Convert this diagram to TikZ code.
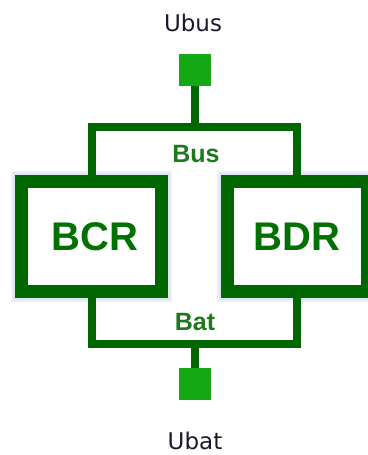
\documentclass[tikz,border=0pt]{standalone}
\usepackage{fontspec}
\setmainfont{Liberation Sans}
\newfontfamily\labelfont{DejaVu Sans}
\usepackage{tikz}
\usetikzlibrary{positioning, calc}
\usepackage{xcolor}
\definecolor{framegreen}{RGB}{0,102,0}
\definecolor{padgreen}{RGB}{20,168,20}
\definecolor{textgreen}{RGB}{30,120,30}
\definecolor{halo}{RGB}{222,228,240}
\definecolor{portink}{RGB}{25,25,45}

\begin{document}
\begin{tikzpicture}[
    x=1pt, y=-1pt,
    wire/.style={draw=framegreen, line width=8pt},
    unit/.style={rectangle, draw=framegreen, line width=13pt, fill=white,
                 minimum width=140pt, minimum height=110pt, inner sep=0pt,
                 font=\fontsize{40}{40}\selectfont\bfseries, text=framegreen!85!padgreen,
                 preaction={draw=halo!60, line width=21pt},
                 preaction={draw=halo, line width=17pt}},
    pad/.style={rectangle, fill=padgreen, minimum size=32pt, inner sep=0pt},
    port/.style={font=\labelfont\fontsize{23}{23}\selectfont, text=portink, anchor=base},
    railtag/.style={font=\fontsize{25}{25}\selectfont\bfseries, text=textgreen, anchor=base}
]
\useasboundingbox (0,0) rectangle (367,455);

\coordinate (bustop) at (195,127);
\coordinate (batbot) at (195,344);

\node[pad] (buspad) at (195,70) {};
\node[pad] (batpad) at (195,384) {};
\node[port] (ubus) at (193,31) {Ubus};
\node[port] (ubat) at (195,449) {Ubat};

\node[unit] (bcr) at (91.5,236.5) {\hspace*{7pt}BCR};
\node[unit] (bdr) at (297,236.5) {BDR};

\draw[wire] (bcr.north) |- (bustop) -| (bdr.north);
\draw[wire] (bcr.south) |- (batbot) -| (bdr.south);
\draw[wire] (buspad.south) -- (bustop);
\draw[wire] (batpad.north) -- (batbot);

\node[railtag] (bustag) at (196,162) {Bus};
\node[railtag] (battag) at (195,330) {Bat};
\end{tikzpicture}
\end{document}
